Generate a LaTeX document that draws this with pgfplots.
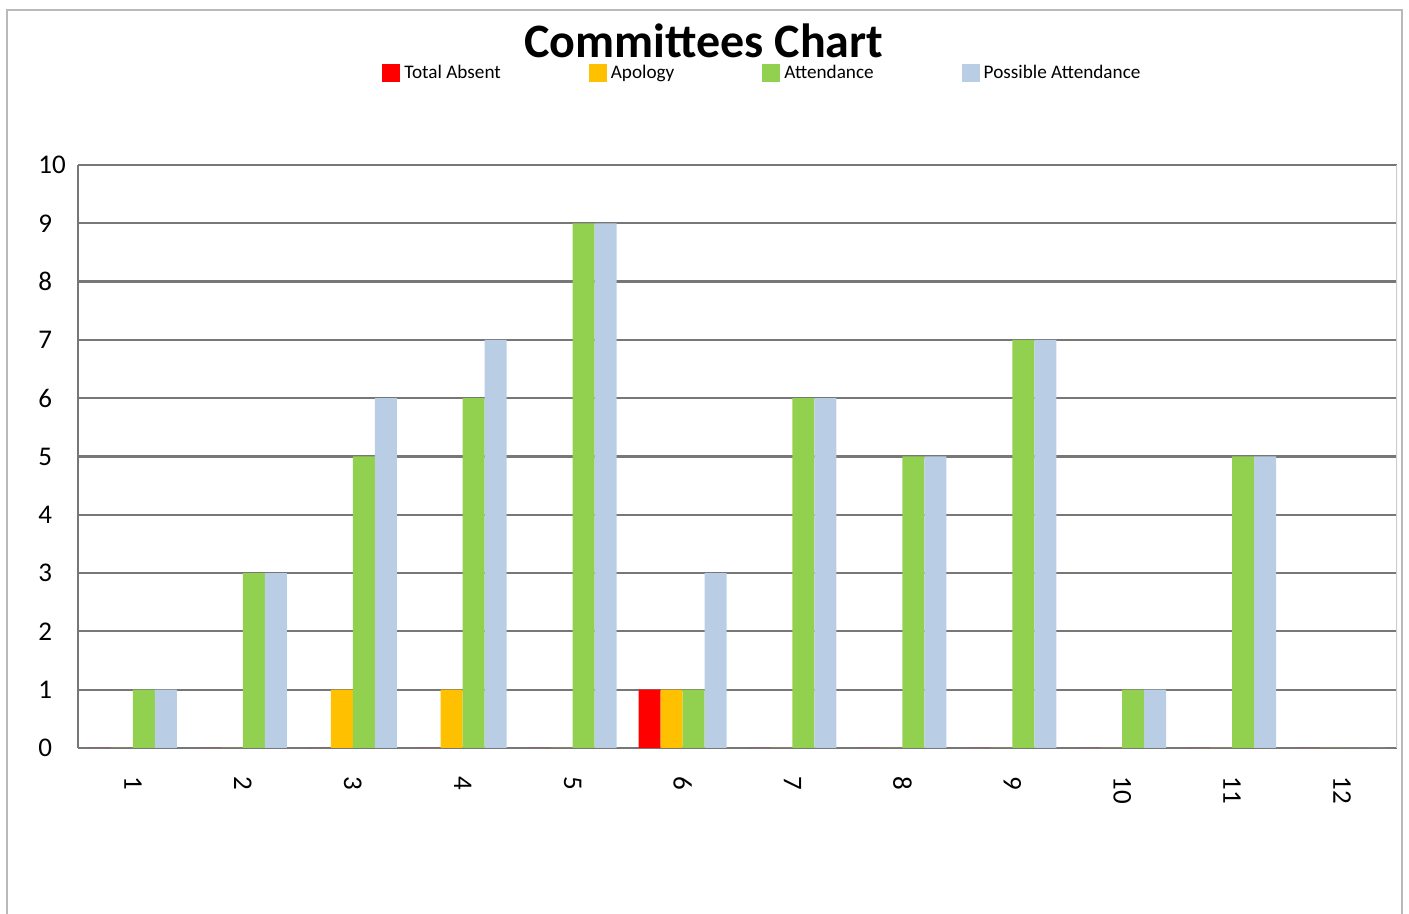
\documentclass[border=0pt]{standalone}
\usepackage{fontspec}
\setmainfont{Carlito}
\usepackage{pgfplots}
\pgfplotsset{compat=1.18}
\definecolor{cabs}{HTML}{FF0000}
\definecolor{capo}{HTML}{FFC000}
\definecolor{catt}{HTML}{92D050}
\definecolor{cpos}{HTML}{B9CDE5}
\definecolor{gridc}{HTML}{777777}
\begin{document}
\begin{tikzpicture}
\useasboundingbox (-39pt,-83pt) rectangle (665.5pt,374pt);
\draw[gray!55, line width=0.8pt] (-35.5pt,-95pt) rectangle (662pt,369pt);
\begin{axis}[
    scale only axis,
    width=659.5pt, height=291.5pt,
    ybar, bar width=11pt, ybar=0pt,
    xmin=0.5, xmax=12.5, ymin=0, ymax=10,
    xtick={1,2,3,4,5,6,7,8,9,10,11,12},
    ytick={0,1,2,3,4,5,6,7,8,9,10},
    major tick length=0pt,
    ymajorgrids,
    grid style={gridc, line width=1.1pt},
    axis lines*=left,
    axis line style={gridc, line width=1.1pt, -},
    /pgf/number format/assume math mode=true,
    ticklabel style={font=\fontsize{13.5}{16}\selectfont},
    yticklabel style={anchor=west, inner xsep=0pt, xshift=-20pt},
    xticklabel style={rotate=-90, anchor=west, inner xsep=14pt},
    title={Committees Chart},
    title style={at={(axis description cs:0.4746,1.1646)}, anchor=base,
        font=\bfseries\fontsize{24}{28}\selectfont},
    legend columns=4,
    legend style={draw=none, fill=none, inner sep=0pt,
        at={(axis description cs:0.2305,1.1578)}, anchor=west,
        font=\fontsize{9.6}{11}\selectfont,
        /tikz/every even column/.append style={column sep=42pt}},
    legend image code/.code={\fill[#1] (0pt,-4.5pt) rectangle (9pt,4.5pt);},
]
\addplot[fill=cabs, draw=none] coordinates {
 (1,0) (2,0) (3,0) (4,0) (5,0) (6,1) (7,0) (8,0) (9,0) (10,0) (11,0) (12,0)};
\addplot[fill=capo, draw=none] coordinates {
 (1,0) (2,0) (3,1) (4,1) (5,0) (6,1) (7,0) (8,0) (9,0) (10,0) (11,0) (12,0)};
\addplot[fill=catt, draw=none] coordinates {
 (1,1) (2,3) (3,5) (4,6) (5,9) (6,1) (7,6) (8,5) (9,7) (10,1) (11,5) (12,0)};
\addplot[fill=cpos, draw=none] coordinates {
 (1,1) (2,3) (3,6) (4,7) (5,9) (6,3) (7,6) (8,5) (9,7) (10,1) (11,5) (12,0)};
\legend{Total Absent, Apology, Attendance, Possible Attendance}
\draw[gray!40, line width=0.8pt] (rel axis cs:1,0) -- (rel axis cs:1,1);
\end{axis}
\end{tikzpicture}
\end{document}
